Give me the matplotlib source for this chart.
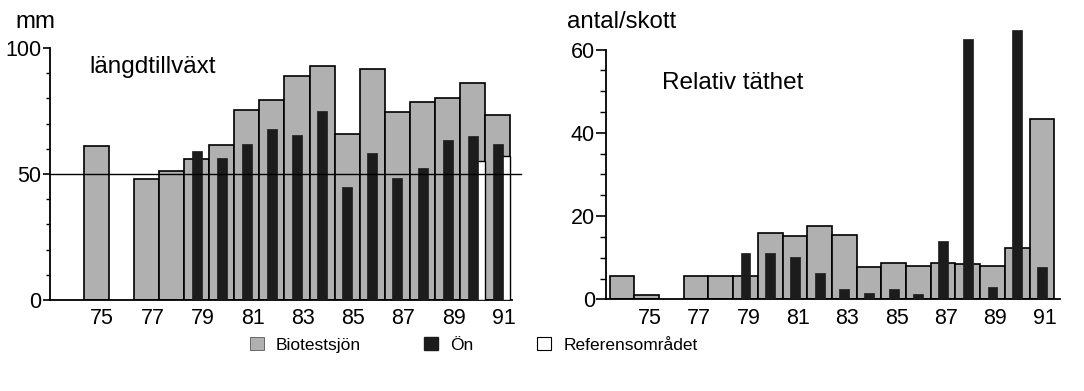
import matplotlib.pyplot as plt
from matplotlib.patches import Patch
from matplotlib.ticker import MultipleLocator, FixedLocator

plt.rcParams['font.family'] = ['Liberation Sans', 'DejaVu Sans']

# längdtillväxt (mm)
len_bio_years = [75, 77, 78, 79, 80, 81, 82, 83, 84, 85, 86, 87, 88, 89, 90, 91]
len_bio = [61, 48, 51, 56, 61.5, 75.5, 79.5, 89, 93, 66, 91.5, 74.5, 78.5, 80, 86, 73.5]
len_on_years = [79, 80, 81, 82, 83, 84, 85, 86, 87, 88, 89, 90, 91]
len_on = [59, 56.5, 62, 68, 65.5, 75, 45, 58.5, 48.5, 52.5, 63.5, 65, 62]
len_ref_years = [90, 91]
len_ref = [55, 57]

# relativ täthet (antal/skott)
den_bio_years = [74, 75, 77, 78, 79, 80, 81, 82, 83, 84, 85, 86, 87, 88, 89, 90, 91]
den_bio = [5.6, 1.0, 5.6, 5.6, 5.5, 15.9, 15.1, 17.6, 15.5, 7.7, 8.7, 8.1, 8.7, 8.5, 8.1, 12.4, 43.3]
den_on_years = [79, 80, 81, 82, 83, 84, 85, 86, 87, 88, 89, 90, 91]
den_on = [11.1, 11.1, 10.1, 6.4, 2.4, 1.6, 2.4, 1.3, 14.1, 62.5, 2.9, 64.8, 7.7]

tick_years = [75, 77, 79, 81, 83, 85, 87, 89, 91]

grey = '#b0b0b0'
black = '#1c1c1c'

fig = plt.figure(figsize=(10.84, 3.91), dpi=100)
ax1 = fig.add_axes([0.0461, 0.2327, 0.4262, 0.6445])
ax2 = fig.add_axes([0.559, 0.2345, 0.4188, 0.7023])

# left panel
ax1.bar(len_bio_years, len_bio, width=1.0, color=grey, edgecolor='black', linewidth=1.2, zorder=2)
ax1.bar(len_ref_years, len_ref, width=0.48, align='edge', color='white', edgecolor='black', linewidth=1.0, zorder=3)
ax1.bar(len_on_years, len_on, width=0.4, color=black, edgecolor=black, linewidth=0.5, zorder=4)
ax1.plot([73.16, 91.9], [50, 50], color='black', linewidth=1.0, zorder=5, clip_on=False)
ax1.set_xlim(73.16, 91.56)
ax1.set_ylim(0, 100)
ax1.set_yticks([0, 50, 100])
ax1.yaxis.set_minor_locator(MultipleLocator(10))
ax1.tick_params(axis='y', which='major', length=5, width=1.2, pad=1, labelsize=15.5)
ax1.tick_params(axis='y', which='minor', length=3, width=1.0)
ax1.set_xticks([y + 0.24 for y in tick_years])
ax1.set_xticklabels([str(y) for y in tick_years])
ax1.tick_params(axis='x', length=0, pad=6, labelsize=15.5)
ax1.text(74.72, 90, 'längdtillväxt', fontsize=17.5)

# right panel
ax2.bar(den_bio_years, den_bio, width=1.0, color=grey, edgecolor='black', linewidth=1.2, zorder=2)
ax2.bar(den_on_years, den_on, width=0.4, color=black, edgecolor=black, linewidth=0.5, zorder=4)
ax2.set_xlim(73.35, 91.73)
ax2.set_ylim(0, 66)
ax2.set_yticks([0, 20, 40, 60])
ax2.yaxis.set_minor_locator(FixedLocator(list(range(0, 61, 5))))
ax2.spines['left'].set_bounds(0, 60)
ax2.tick_params(axis='y', which='major', length=7, width=1.2, pad=1, labelsize=15.5)
ax2.tick_params(axis='y', which='minor', length=4, width=1.0)
ax2.set_xticks([y + 0.12 for y in tick_years])
ax2.set_xticklabels([str(y) for y in tick_years])
ax2.tick_params(axis='x', length=0, pad=6, labelsize=15.5)
ax2.text(75.62, 50.6, 'Relativ täthet', fontsize=17.5)

for ax in (ax1, ax2):
    ax.spines['top'].set_visible(False)
    ax.spines['right'].set_visible(False)
    ax.spines['left'].set_linewidth(1.3)
    ax.spines['bottom'].set_linewidth(1.3)

fig.text(15 / 1084, 1 - 28 / 391, 'mm', fontsize=17.3, va='baseline')
fig.text(567 / 1084, 1 - 28.5 / 391, 'antal/skott', fontsize=17.3, va='baseline')

handles = [
    Patch(facecolor=grey, edgecolor='#555555', linewidth=0.6, label='Biotestsjön'),
    Patch(facecolor=black, edgecolor=black, label='Ön'),
    Patch(facecolor='white', edgecolor='black', linewidth=0.8, label='Referensområdet'),
]
fig.legend(handles=handles, loc='center', bbox_to_anchor=(0.437, 0.118), ncol=3,
           frameon=False, fontsize=12.5, handlelength=0.8, handleheight=0.8,
           handletextpad=0.7, columnspacing=3.65)

fig.savefig('out.png', dpi=100)
